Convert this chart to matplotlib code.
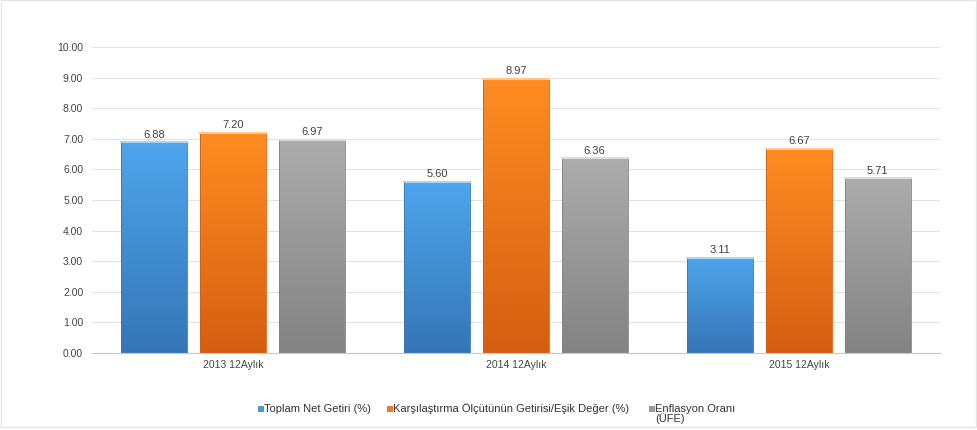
import numpy as np
import matplotlib.pyplot as plt
from matplotlib.colors import LinearSegmentedColormap
from matplotlib.patches import Rectangle

plt.rcParams['font.family'] = ['Liberation Sans', 'DejaVu Sans']

categories = ['2013 12Aylık', '2014 12Aylık', '2015 12Aylık']
series_names = ['Toplam Net Getiri (%)',
                'Karşılaştırma Ölçütünün Getirisi/Eşik Değer (%)',
                'Enflasyon Oranı\n(ÜFE)']
net_getiri = [6.88, 5.60, 3.11]
esik_deger = [7.20, 8.97, 6.67]
enflasyon = [6.97, 6.36, 5.71]
yticks = [0, 1, 2, 3, 4, 5, 6, 7, 8, 9, 10]

series = [net_getiri, esik_deger, enflasyon]
# (bottom, top, cap) colours
colors = [('#3576b6', '#4ea5ec', '#a9d4f5'),
          ('#d65e12', '#ff8c22', '#ffc890'),
          ('#838383', '#acacac', '#dcdcdc')]
solid = ['#4598e0', '#f47a1c', '#9a9a9a']

fig = plt.figure(figsize=(9.78, 4.3), dpi=100)
ax = fig.add_axes([0.0936, 0.179, 0.868, 0.7117])

x = np.arange(len(categories))
w = 0.233
step = 0.278
grad = np.linspace(0, 1, 100).reshape(-1, 1)

for i, vals in enumerate(series):
    cmap = LinearSegmentedColormap.from_list('g%d' % i, [colors[i][0], colors[i][1]])
    for xi, v in zip(x, vals):
        cx = xi + (i - 1) * step
        ax.imshow(grad, extent=(cx - w / 2, cx + w / 2, 0, v), origin='lower',
                  aspect='auto', cmap=cmap, zorder=2)
        ax.add_patch(Rectangle((cx - w / 2, 0), w, v, fill=False,
                               edgecolor=colors[i][0], lw=0.6, zorder=3))
        ax.plot([cx - w / 2, cx + w / 2], [v, v], color=colors[i][2], lw=1.5, zorder=4)
        ax.annotate('%.2f' % v, (cx, v), xytext=(0, 2), textcoords='offset points',
                    ha='center', va='bottom', fontsize=8, color='#404040')

ax.set_xlim(-0.5, 2.5)
ax.set_ylim(0, 10)
ax.set_yticks(yticks)
ax.set_yticklabels(['%.2f' % t for t in yticks])
ax.set_xticks(x)
ax.set_xticklabels(categories)
ax.tick_params(axis='both', length=0, labelsize=7.5, labelcolor='#444444')
ax.tick_params(axis='y', pad=6)
ax.tick_params(axis='x', pad=5)
ax.grid(axis='y', color='#e3e3e3', lw=0.8, zorder=0)
ax.set_axisbelow(True)
for s in ['top', 'right', 'left']:
    ax.spines[s].set_visible(False)
ax.spines['bottom'].set_color('#c8c8c8')
ax.spines['bottom'].set_zorder(5)

# legend drawn by hand so the two-line label hangs down from the first line
W, H = 978.0, 430.0
leg_x = [258, 387, 649]
for i, name in enumerate(series_names):
    fig.patches.append(Rectangle((leg_x[i] / W, 1 - 411 / H), 5.5 / W, 5.5 / H,
                                 transform=fig.transFigure, facecolor=solid[i],
                                 edgecolor=colors[i][0], lw=0.5))
    fig.text((leg_x[i] + 6) / W, 1 - 403.5 / H, name, ha='left', va='top',
             fontsize=8, color='#333333', linespacing=1.0)

fig.patches.append(Rectangle((0.001, 0.006), 0.997, 0.993, transform=fig.transFigure,
                             fill=False, edgecolor='#e6e6e6', lw=1))

plt.savefig('out.png', dpi=100)
